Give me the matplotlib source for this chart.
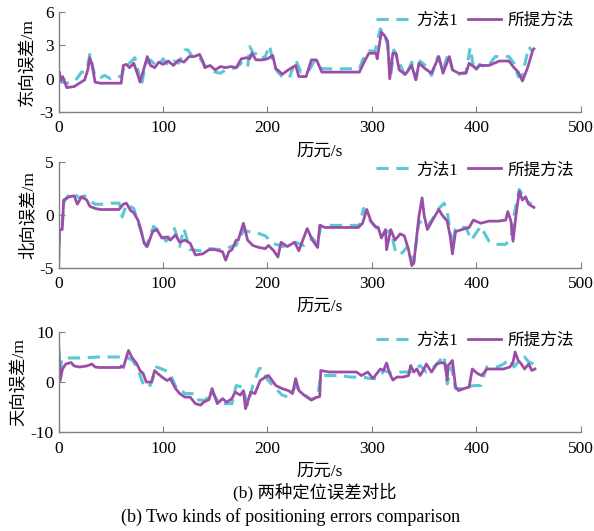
import matplotlib
matplotlib.use("Agg")
import matplotlib.pyplot as plt

plt.rcParams['font.family'] = ['Liberation Serif', 'Noto Sans CJK SC']
plt.rcParams['axes.unicode_minus'] = False

# 东向误差 (east)
t_east_prop = [0, 1, 2, 4, 8, 15, 20, 25, 28, 30, 32, 35, 40, 50, 60, 62, 65, 68, 72, 75, 78, 82, 85, 88, 92,
               96, 100, 105, 110, 115, 120, 125, 130, 135, 138, 140, 145, 150, 155, 160, 165, 170, 175, 180,
               183, 185, 189, 195, 200, 205, 208, 211, 214, 220, 227, 230, 237, 242, 247, 252, 260, 270, 280,
               288, 293, 297, 304, 305, 309, 312, 315, 317, 320, 323, 326, 332, 338, 342, 345, 351, 357, 364,
               368, 374, 377, 383, 390, 393, 400, 403, 412, 422, 431, 436, 440, 444, 449, 454, 455]
east_prop = [0.3, 0.6, -0.2, 0.2, -0.8, -0.7, -0.4, -0.1, 0.8, 1.9, 1.3, -0.3, -0.4, -0.4, -0.4, 1.2, 1.3, 1.0,
             1.4, 0.6, -0.3, 1.0, 2.0, 1.2, 1.0, 1.5, 1.3, 1.6, 1.2, 1.7, 1.5, 2.0, 2.0, 2.2, 1.6, 1.0, 1.2, 0.8,
             1.1, 1.0, 1.1, 1.0, 1.8, 1.9, 1.8, 2.3, 1.7, 1.7, 1.8, 2.1, 0.9, 0.7, 0.4, 0.8, 1.2, 0.2, 0.2, 1.7,
             1.7, 0.6, 0.6, 0.6, 0.6, 0.6, 1.6, 2.3, 2.3, 1.8, 4.2, 3.9, 3.4, 0.0, 2.3, 2.3, 0.8, 0.4, 1.2, -0.1,
             1.4, 0.9, 0.5, 2.0, 0.5, 2.0, 0.8, 0.5, 0.5, 1.4, 0.9, 1.2, 1.2, 1.6, 1.6, 1.0, 0.6, -0.2, 1.0, 2.6,
             2.7]

t_east_m1 = [0, 3, 8, 15, 19, 22, 25, 28, 30, 32, 35, 40, 44, 50, 54, 60, 64, 68, 73, 76, 79.5, 83, 88, 92, 96,
             100, 105, 110, 115, 121, 124, 128, 132, 135, 140, 145, 150, 155, 160, 165, 170, 175, 181, 183, 187,
             192, 197, 202, 206, 210, 214, 221, 227, 232, 240, 245, 252, 260, 270, 280, 288, 291, 297, 303, 308,
             312, 315, 318, 321, 326, 332, 338, 342, 346, 351, 357, 363, 368, 373, 377, 383, 390, 394, 398, 403,
             410, 418, 425, 431, 436, 440, 444, 450, 454]
east_m1 = [0.0, -0.3, -0.4, -0.3, 0.2, 0.6, 0.6, 1.2, 2.2, 1.4, 0.2, 0.1, 0.3, 0.0, 0.2, 0.2, 1.4, 1.4, 1.9, 0.8,
           -0.6, 1.3, 1.7, 1.3, 1.2, 1.8, 1.2, 1.6, 1.4, 2.6, 2.6, 2.0, 2.1, 1.9, 1.2, 0.9, 0.6, 0.5, 0.8, 0.9,
           1.0, 1.4, 1.0, 2.9, 2.2, 2.4, 1.8, 3.0, 1.2, 0.6, 0.2, 0.1, 1.7, 0.6, 0.8, 1.6, 0.9, 0.9, 0.9, 0.9,
           0.9, 1.7, 2.5, 2.5, 4.5, 4.0, 3.0, 0.3, 2.6, 1.5, 0.2, 1.5, 0.0, 1.6, 1.2, 0.3, 2.0, 0.8, 2.3, 0.9,
           0.4, 0.6, 2.8, 0.6, 1.3, 1.0, 2.0, 2.0, 2.0, 1.4, 0.2, 0.3, 2.9, 2.4]

# 北向误差 (north)
t_north_prop = [0, 1, 3.5, 5, 10, 15, 18, 22, 27, 30, 35, 40, 50, 58, 62, 65, 69, 72, 76, 78, 82, 85, 90, 94, 99,
                104, 107, 112, 116, 121, 126, 131, 138, 144, 150, 157, 160, 163, 166, 170, 172, 177, 181, 186,
                192, 198, 201, 206, 210, 213, 219, 226, 230, 238, 243, 248, 250, 255, 270, 287, 291, 295, 299,
                303, 306, 309, 313, 314, 318, 322, 327, 331, 335, 338, 340, 345, 348, 350, 353, 358, 364, 367,
                372, 375, 377, 380, 386, 393, 397, 404, 412, 421, 428, 430, 433, 435, 438, 441, 444, 447, 450, 455]
north_prop = [-4.9, -1.4, -1.4, 1.4, 1.7, 1.8, 1.0, 1.7, 1.4, 0.8, 0.6, 0.5, 0.5, 0.5, 1.0, 1.1, 0.4, 0.2, -0.5,
              -1.1, -2.7, -3.0, -1.6, -1.4, -2.2, -2.1, -2.4, -1.9, -2.6, -2.4, -2.7, -3.8, -3.7, -3.3, -3.3,
              -3.5, -4.3, -3.5, -3.3, -2.4, -2.4, -0.8, -2.4, -2.9, -3.1, -3.2, -2.9, -3.4, -4.0, -2.6, -3.0,
              -2.6, -3.4, -1.3, -2.4, -3.1, -1.0, -1.2, -1.2, -1.2, -0.8, 0.5, -0.6, -1.1, -1.2, -2.2, -1.4,
              -3.3, -1.4, -2.4, -1.8, -2.0, -3.3, -4.8, -4.6, -0.1, 1.6, -0.1, -1.4, -0.5, 0.5, 0.0, -0.6, -2.1,
              -3.7, -1.6, -1.4, -1.2, -0.5, -0.8, -0.6, -0.6, -0.5, 0.3, -0.6, -2.5, 0.1, 2.2, 1.4, 1.7, 1.0, 0.7]

t_north_m1 = [0, 1, 3.5, 5, 10, 15, 20, 25, 30, 35, 45, 51, 58, 61, 65, 72, 77, 84, 91, 96, 103, 111, 116, 120,
              126, 135, 145, 155, 160, 165, 170, 177, 183, 190, 198, 205, 215, 221, 227, 235, 243, 248, 251,
              260, 275, 288, 292, 298, 304, 309, 314, 318, 323, 329, 334, 340, 345, 348, 352, 358, 364, 369, 372,
              377, 380, 385, 390, 395, 404, 412, 418, 428, 433, 436, 441, 446, 450, 453]
north_m1 = [-4.6, -1.3, -1.2, 1.2, 1.9, 2.0, 1.6, 1.8, 1.3, 1.0, 1.0, 1.1, 1.1, -0.2, 1.0, 0.6, -1.0, -3.0, -1.1,
            -1.5, -2.5, -1.3, -3.0, -1.3, -3.3, -3.4, -3.2, -3.3, -3.3, -3.0, -2.9, -1.5, -1.6, -1.7, -2.0,
            -2.7, -3.0, -2.8, -2.6, -2.9, -2.2, -2.8, -1.0, -1.0, -1.0, -1.0, 0.6, -0.5, -1.2, -2.0, -1.6, -1.5,
            -3.7, -3.6, -3.0, -4.5, -0.6, -0.8, -1.2, -0.4, 0.6, 1.1, 0.3, -3.0, -1.2, -1.2, -1.2, -2.4, -1.1,
            -2.5, -2.8, -2.8, -2.1, 0.0, 2.4, 1.6, 1.1, 1.1]

# 天向误差 (up)
t_up_prop = [0, 1.6, 3.8, 7, 12, 15, 20, 27, 32, 35, 39, 50, 59, 60, 62, 67, 70, 75, 78, 81, 84, 89, 92, 95, 99,
             104, 107, 112, 116, 121, 126, 131, 136, 139, 144, 147, 152, 157, 161, 166, 169, 174, 177, 179, 184,
             188, 193, 198, 201, 208, 214, 220, 224, 227, 230, 235, 242, 246, 250, 251, 259, 269, 285, 290, 296,
             301, 308, 311, 314, 317, 320, 324, 330, 335, 337, 340, 343, 346, 349, 352, 357, 362, 367, 370, 372,
             373, 377, 380, 383, 388, 393, 396, 401, 405, 410, 415, 426, 432, 435, 437, 440, 443, 446, 450, 453,
             456]
up_prop = [8.0, 0.3, 2.6, 3.6, 3.9, 3.2, 3.0, 3.2, 3.6, 3.0, 2.9, 2.9, 2.9, 3.2, 2.9, 6.3, 5.0, 3.6, 2.3, 1.7,
           0.0, 0.0, 2.3, 1.7, 1.0, 0.3, 0.7, -1.3, -2.3, -3.0, -3.0, -4.3, -4.6, -4.0, -3.5, -1.3, -4.3, -3.3,
           -4.0, -3.3, -2.0, -2.6, -1.7, -5.3, -2.0, -2.3, 0.3, 1.0, 1.3, -0.7, -1.3, -1.7, -2.3, 0.7, -1.7,
           -2.6, -3.6, -3.1, -2.9, 2.3, 2.0, 2.0, 2.0, 1.3, 2.0, 0.7, 2.6, 2.3, 3.8, 1.7, 0.4, 1.0, 1.0, 1.3,
           3.3, 2.0, 2.6, 1.3, 2.3, 3.6, 2.0, 3.6, 3.9, 3.6, 0.4, 3.3, 4.3, -1.0, -1.7, -1.3, -1.0, 2.6, 1.7,
           1.3, 2.6, 2.6, 2.6, 3.0, 3.9, 6.0, 4.3, 3.6, 2.6, 3.6, 2.3, 2.6]

t_up_m1 = [0, 1.6, 3, 10, 20, 30, 40, 50, 60, 65, 71, 76, 82, 88, 94, 100, 106, 113, 116, 121, 131, 134, 141, 146,
           154, 160, 166, 170, 176, 181, 186, 192, 195, 200, 205, 214, 220, 227, 235, 242, 248, 251, 260, 269,
           280, 291, 298, 305, 312, 318, 327, 337, 346, 352, 357, 362, 369, 372, 376, 380, 388, 394, 399, 404,
           410, 420, 426, 432, 436, 441, 446, 450, 455]
up_m1 = [7.0, 0.5, 4.6, 4.8, 4.8, 4.9, 5.0, 5.0, 5.0, 5.0, 4.3, 2.5, -1.0, -0.6, 3.0, 2.5, 2.0, -1.3, -1.3, -2.3,
         -2.3, -3.6, -3.6, -1.7, -4.3, -4.3, -4.3, -0.7, -1.0, -4.5, -0.7, 2.7, 2.7, 0.5, -0.7, -2.6, -3.0,
         -0.8, -2.5, -3.5, -3.0, 1.3, 1.3, 1.3, 1.0, 1.0, 0.7, 0.7, 2.3, 1.8, 2.0, 2.0, 3.3, 2.0, 2.5, 3.6, 5.3,
         -0.4, 3.0, -1.3, -1.3, -0.8, -0.7, -0.7, 3.0, 3.0, 3.6, 4.6, 3.0, 4.3, 5.0, 4.0, 3.6]

ylabels = ['东向误差/m', '北向误差/m', '天向误差/m']
yticks = [[-3, 0, 3, 6], [-5, 0, 5], [-10, 0, 10]]
xticks = [0, 100, 200, 300, 400, 500]
legend_labels = ['方法1', '所提方法']

cyan = '#5cc8d3'
purple = '#9b4ea7'

fig = plt.figure(figsize=(5.94, 5.31), dpi=100)
boxes = [[0.0985, 0.789, 0.8795, 0.188],
         [0.0985, 0.496, 0.8795, 0.199],
         [0.0985, 0.186, 0.8795, 0.189]]
series = [(t_east_m1, east_m1, t_east_prop, east_prop),
          (t_north_m1, north_m1, t_north_prop, north_prop),
          (t_up_m1, up_m1, t_up_prop, up_prop)]

for box, (tm, ym, tp, yp), lab, yt in zip(boxes, series, ylabels, yticks):
    ax = fig.add_axes(box)
    ax.plot(tm, ym, color=cyan, lw=2.2, ls=(0, (4, 2.5)), label=legend_labels[0])
    ax.plot(tp, yp, color=purple, lw=2.0, label=legend_labels[1])
    ax.set_xlim(0, 500)
    ax.set_ylim(yt[0], yt[-1])
    ax.set_xticks(xticks)
    ax.set_yticks(yt)
    for s in ['top', 'right']:
        ax.spines[s].set_visible(False)
    for s in ['left', 'bottom']:
        ax.spines[s].set_color('#808080')
        ax.spines[s].set_linewidth(1.0)
    ax.tick_params(direction='in', length=4, color='#808080', labelsize=12.5)
    ax.tick_params(axis='x', pad=6)
    ax.set_ylabel(lab, fontsize=12.5, labelpad=2)
    ax.set_xlabel('历元/s', fontsize=12.5, labelpad=5)
    ax.legend(loc='upper right', ncol=2, frameon=False, fontsize=12, handlelength=2.0,
              columnspacing=0.6, handletextpad=0.4, bbox_to_anchor=(1.0, 1.06), borderaxespad=0)

fig.text(0.53, 0.073, '(b) 两种定位误差对比', ha='center', va='center', fontsize=12.5)
fig.text(0.49, 0.026, '(b) Two kinds of positioning errors comparison', ha='center', va='center', fontsize=13)

fig.savefig('out.png', dpi=100)
